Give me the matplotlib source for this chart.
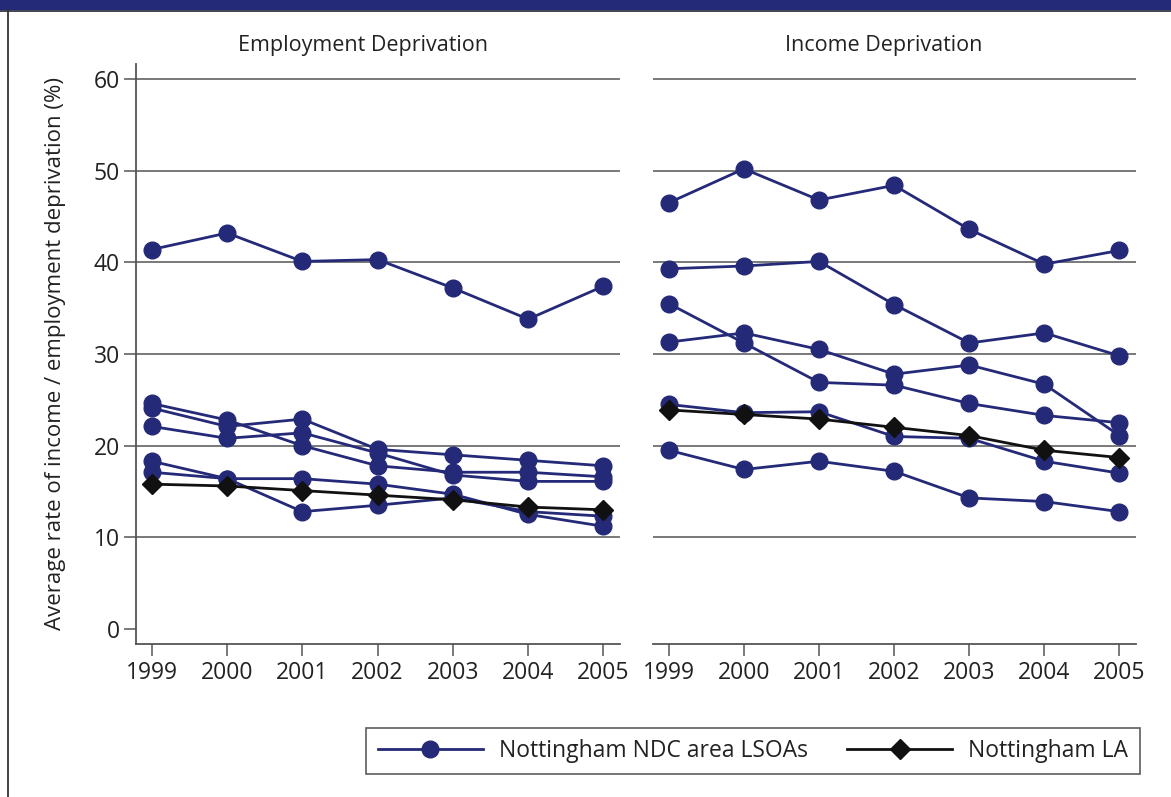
import numpy as np
import matplotlib.pyplot as plt
from matplotlib.lines import Line2D
from matplotlib.patches import Rectangle

plt.rcParams['font.family'] = ['Open Sans', 'DejaVu Sans']

years = [1999, 2000, 2001, 2002, 2003, 2004, 2005]

# employment deprivation, one list per NDC area LSOA
emp_lsoa = [
    [41.4, 43.2, 40.1, 40.3, 37.2, 33.8, 37.4],
    [24.6, 22.8, 20.0, 17.8, 17.1, 17.1, 16.6],
    [24.1, 22.1, 22.9, 19.6, 19.0, 18.4, 17.8],
    [22.1, 20.8, 21.4, 19.2, 16.8, 16.1, 16.1],
    [18.3, 16.4, 12.8, 13.5, 14.3, 12.8, 12.3],
    [17.1, 16.4, 16.4, 15.8, 14.7, 12.5, 11.2],
]
emp_la = [15.8, 15.6, 15.1, 14.6, 14.1, 13.3, 13.0]

# income deprivation
inc_lsoa = [
    [46.5, 50.2, 46.8, 48.4, 43.6, 39.8, 41.3],
    [39.3, 39.6, 40.1, 35.4, 31.2, 32.3, 29.8],
    [35.5, 31.2, 26.9, 26.6, 24.6, 23.3, 22.5],
    [31.3, 32.3, 30.5, 27.8, 28.8, 26.7, 21.1],
    [24.5, 23.6, 23.7, 21.0, 20.8, 18.3, 17.0],
    [19.5, 17.4, 18.3, 17.2, 14.3, 13.9, 12.8],
]
inc_la = [23.9, 23.4, 22.9, 22.0, 21.1, 19.5, 18.7]

titles = ['Employment Deprivation', 'Income Deprivation']
yticks = [0, 10, 20, 30, 40, 50, 60]

navy = '#252a78'
grey = '#555555'
txt = '#222222'

fig = plt.figure(figsize=(11.71, 7.97), dpi=100)

# dark band on top and left border
fig.add_artist(Rectangle((0, 1 - 10 / 797), 1, 10 / 797, transform=fig.transFigure,
                         facecolor=navy, edgecolor='none'))
fig.add_artist(Line2D([0, 1], [1 - 11 / 797] * 2, transform=fig.transFigure, color='#222233', lw=1.2))
fig.add_artist(Line2D([7.5 / 1171] * 2, [0, 1 - 10 / 797], transform=fig.transFigure, color='#333333', lw=1.3))

ax1 = fig.add_axes([136 / 1171, 1 - 644 / 797, 484 / 1171, 580 / 797])
ax2 = fig.add_axes([653 / 1171, 1 - 644 / 797, 483 / 1171, 580 / 797])

for ax, lsoa, la in [(ax1, emp_lsoa, emp_la), (ax2, inc_lsoa, inc_la)]:
    for g in yticks[1:]:
        ax.axhline(g, color=grey, lw=1.1, zorder=1)
    for s in lsoa:
        ax.plot(years, s, color=navy, lw=2.0, marker='o', markersize=12, zorder=3)
    ax.plot(years, la, color='#111111', lw=2.0, marker='D', markersize=10.5, zorder=4)
    ax.set_xlim(1998.79, 2005.22)
    ax.set_ylim(-1.64, 61.64)
    ax.set_xticks(years)
    ax.set_xticklabels([str(y) for y in years])
    for sp in ['top', 'right']:
        ax.spines[sp].set_visible(False)
    ax.spines['bottom'].set_color(grey)
    ax.spines['bottom'].set_linewidth(1.3)
    ax.tick_params(axis='x', direction='out', length=8.5, width=1.1, color=grey,
                   labelsize=16.5, pad=4, labelcolor=txt)

ax1.spines['left'].set_color(grey)
ax1.spines['left'].set_linewidth(1.3)
ax1.set_yticks(yticks)
ax1.tick_params(axis='y', direction='out', length=8.5, width=1.1, color=grey,
                labelsize=16.5, pad=3, labelcolor=txt)
ax1.set_ylabel('Average rate of income / employment deprivation (%)', fontsize=16,
               color=txt, labelpad=20)
ax2.spines['left'].set_visible(False)
ax2.set_yticks([])

fig.text(363 / 1171, 1 - 46 / 797, titles[0], ha='center', va='center', fontsize=15.5, color=txt)
fig.text(884 / 1171, 1 - 46 / 797, titles[1], ha='center', va='center', fontsize=15.5, color=txt)

handles = [Line2D([], [], color=navy, lw=2.0, marker='o', markersize=12),
           Line2D([], [], color='#111111', lw=2.0, marker='D', markersize=10.5)]
leg = fig.legend(handles, ['Nottingham NDC area LSOAs', 'Nottingham LA'], loc='center',
                 bbox_to_anchor=(753 / 1171, 1 - 751 / 797), ncol=2, fontsize=16.5,
                 frameon=True, fancybox=False, handlelength=4.6, columnspacing=1.7,
                 borderpad=0.5, handletextpad=0.7)
leg.get_frame().set_edgecolor('#333333')
leg.get_frame().set_linewidth(1.2)
for t in leg.get_texts():
    t.set_color(txt)

plt.savefig('out.png', dpi=100)
